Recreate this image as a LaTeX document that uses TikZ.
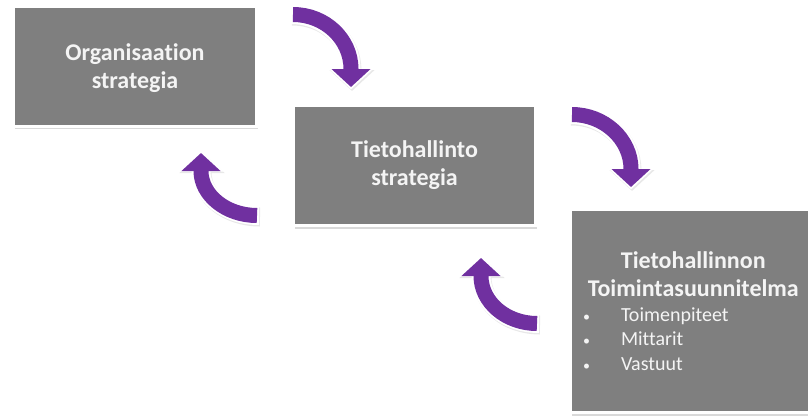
\documentclass[tikz,border=0pt]{standalone}
\usepackage{fontspec}
\setmainfont{Carlito}[Ligatures=NoCommon]
\usetikzlibrary{arrows.meta,shadows,calc}

\definecolor{boxgray}{HTML}{7F7F7F}
\definecolor{boxtext}{HTML}{F4F4F4}
\definecolor{cyclepurple}{HTML}{7030A0}

\newcommand{\planitem}{\makebox[40pt][l]{\hspace{2pt}\fontsize{14}{14}\selectfont\textbullet}}

\tikzset{
    stratbox/.style={fill=boxgray, draw=white, line width=3pt, text=boxtext, inner sep=0pt,
        font=\fontsize{24}{28}\selectfont\bfseries, align=center,
        drop shadow={opacity=.3, shadow xshift=1pt, shadow yshift=-3pt}},
    cyclearrow/.style={cyclepurple, line width=15pt, -{Triangle[width=38pt,length=18pt]},
        preaction={draw=black!9, line width=19pt, -{Triangle[width=44pt,length=21pt]},
            shorten >=-2.5pt, shorten <=-2pt, transform canvas={shift={(1pt,-1.5pt)}}},
        preaction={draw=white, line width=19pt, -{Triangle[width=44pt,length=21pt]},
            shorten >=-2.5pt, shorten <=-2pt}},
}

\begin{document}
\begin{tikzpicture}[x=1pt,y=-1pt]
    \useasboundingbox (0,0) rectangle (808,415);

    \node[stratbox, minimum width=243pt, minimum height=119.5pt] (org) at (135,66.25) {\rule{0pt}{20pt}Organisaation\\strategia};
    \node[stratbox, minimum width=242pt, minimum height=120pt] (tieto) at (414.5,165.5) {Tietohallinto\\strategia};
    \node[stratbox, minimum width=241.5pt, minimum height=203pt, text width=220.5pt, align=left] (plan) at (691.25,311) {%
        {\centering\hspace*{4pt}Tietohallinnon\\\hspace*{4pt}Toimintasuunnitelma\par}
        \vspace{0pt}
        {\normalfont\fontsize{20}{24.5}\selectfont
        \planitem Toimenpiteet\\
        \planitem Mittarit\\
        \planitem Vastuut\par}};

    % arrow tails and tips
    \coordinate (t1) at (293,14.5);
    \coordinate (h1) at (351,87);
    \coordinate (t2) at (572,114.5);
    \coordinate (h2) at (631,187);
    \coordinate (t3) at (537,323.5);
    \coordinate (h3) at (481,258);
    \coordinate (t4) at (257,215.5);
    \coordinate (h4) at (201,153);

    \draw[cyclearrow] (t1) .. controls +(32,0) and +(0,-30) .. ($(h1)+(0,-18)$) -- (h1);
    \draw[cyclearrow] (t2) .. controls +(32,0) and +(0,-30) .. ($(h2)+(0,-18)$) -- (h2);
    \draw[cyclearrow] (t3) .. controls +(-31,0) and +(0,26) .. ($(h3)+(0,18)$) -- (h3);
    \draw[cyclearrow] (t4) .. controls +(-31,0) and +(0,24) .. ($(h4)+(0,18)$) -- (h4);
\end{tikzpicture}
\end{document}
